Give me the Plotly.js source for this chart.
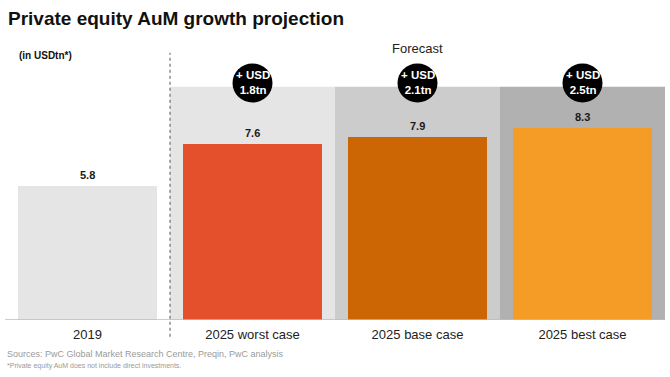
<!DOCTYPE html>
<html>
<head>
<meta charset="utf-8">
<script src="https://cdn.plot.ly/plotly-3.0.1.min.js"></script>
<style>html,body{margin:0;padding:0;background:#fff;}#chart{width:670px;height:377px;}</style>
</head>
<body>
<div id="chart"></div>
<script>
const categories = ["2019", "2025 worst case", "2025 base case", "2025 best case"];
const values = [5.8, 7.6, 7.9, 8.3];
const barColors = ["#e5e5e5", "#e4502b", "#cc6503", "#f59c26"];
const growthLabels = ["", "+ USD<br>1.8tn", "+ USD<br>2.1tn", "+ USD<br>2.5tn"];
const bandColors = ["#e5e5e5", "#cccccc", "#b1b1b1"];
const bandTop = 10.1;
const circleY = 10.26;

const FONT = "Liberation Sans, Arial, Helvetica, sans-serif";

const trace = {
  type: "bar",
  x: categories,
  y: values,
  width: 0.84,
  marker: {color: barColors, line: {width: 0}},
  hoverinfo: "none"
};

const shapes = [];
const annotations = [];

for (let i = 1; i < categories.length; i++) {
  shapes.push({
    type: "rect", layer: "below", xref: "x", yref: "y",
    x0: i - 0.5, x1: i + 0.5, y0: 0, y1: bandTop,
    fillcolor: bandColors[i - 1], line: {width: 0}
  });
}
shapes.push({
  type: "line", xref: "x", yref: "paper",
  x0: 0.5, x1: 0.5, y0: -0.06, y1: 0.954,
  line: {color: "#555", width: 1, dash: "dot"}
});
shapes.push({
  type: "line", xref: "paper", yref: "y",
  x0: 0, x1: 1, y0: 0, y1: 0,
  line: {color: "#bdbdbd", width: 1.5}
});

for (let i = 0; i < categories.length; i++) {
  annotations.push({
    x: i, y: values[i], xref: "x", yref: "y",
    text: "<b>" + values[i].toFixed(1) + "</b>",
    showarrow: false, yanchor: "bottom", yshift: 3,
    font: {family: FONT, size: 11, color: "#1a1a1a"}
  });
  if (growthLabels[i]) {
    shapes.push({
      type: "circle", xref: "x", yref: "y",
      xsizemode: "pixel", ysizemode: "pixel",
      xanchor: i, yanchor: circleY,
      x0: -20, x1: 20, y0: -19.5, y1: 19.5,
      fillcolor: "#000", line: {width: 0}
    });
    annotations.push({
      x: i, y: circleY, xref: "x", yref: "y",
      text: "<b>" + growthLabels[i] + "</b>",
      showarrow: false, align: "center",
      font: {family: FONT, size: 11.5, color: "#fff"}
    });
  }
}

annotations.push({
  x: 2, y: 0.971, xref: "x", yref: "paper",
  text: "Forecast", showarrow: false, yanchor: "middle",
  font: {family: FONT, size: 13, color: "#222"}
});
annotations.push({
  xref: "paper", yref: "paper", x: 0, y: 0.946, xanchor: "left", yanchor: "middle",
  text: "<b>(in USDtn*)</b>", showarrow: false, xshift: 12,
  font: {family: FONT, size: 10, color: "#111"}
});
annotations.push({
  xref: "paper", yref: "paper", x: 0, y: -0.12, xanchor: "left", yanchor: "middle",
  text: "Sources: PwC Global Market Research Centre, Preqin, PwC analysis", showarrow: false,
  font: {family: FONT, size: 9, color: "#9a9a9a"}
});
annotations.push({
  xref: "paper", yref: "paper", x: 0, y: -0.165, xanchor: "left", yanchor: "middle",
  text: "*Private equity AuM does not include direct investments.", showarrow: false,
  font: {family: FONT, size: 7, color: "#9a9a9a"}
});

const layout = {
  width: 670, height: 377,
  margin: {l: 5, r: 5, t: 40, b: 57},
  paper_bgcolor: "#fff", plot_bgcolor: "#fff",
  showlegend: false,
  title: {
    text: "<b>Private equity AuM growth projection</b>",
    x: 0, xref: "paper", xanchor: "left", y: 0.952, yref: "container", yanchor: "middle",
    font: {family: FONT, size: 19, color: "#111"}, pad: {l: 3}
  },
  xaxis: {
    type: "category", range: [-0.5, 3.5],
    showgrid: false, zeroline: false, showline: false,
    ticks: "outside", ticklen: 2, tickcolor: "rgba(0,0,0,0)",
    tickfont: {family: FONT, size: 13, color: "#222"},
    fixedrange: true
  },
  yaxis: {range: [0, 12.12], visible: false, fixedrange: true},
  bargap: 0,
  shapes: shapes,
  annotations: annotations
};

Plotly.newPlot("chart", [trace], layout, {displayModeBar: false, staticPlot: true});
</script>
</body>
</html>
